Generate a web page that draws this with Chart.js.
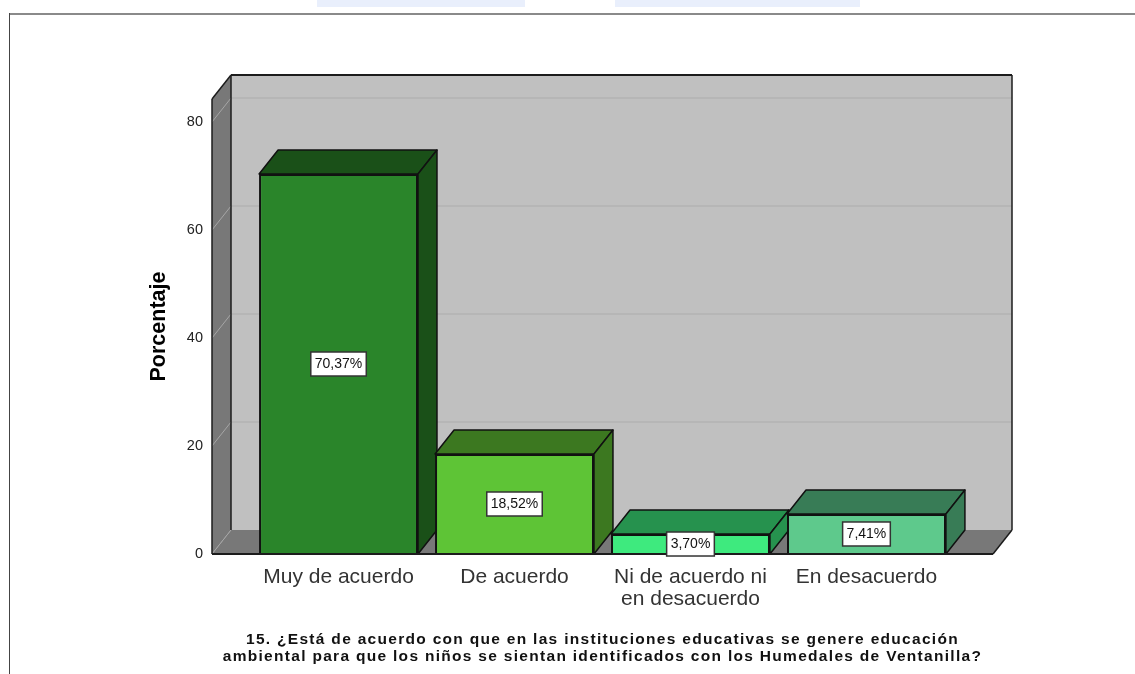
<!DOCTYPE html>
<html>
<head>
<meta charset="utf-8">
<style>
html, body { margin:0; padding:0; background:#fff; overflow:hidden; }
#wrap { position:relative; width:1135px; height:674px; }
#mainChart { position:absolute; left:0; top:0; }
.frameTop { position:absolute; left:9px; right:0; top:13px; height:2px; background:#8a8a8a; }
.frameLeft { position:absolute; left:9px; top:13px; bottom:0; width:1px; background:#444; }
.scrap { position:absolute; top:0; height:7px; background:#e9effc; }
</style>
</head>
<body>
<div id="wrap">
  <div class="scrap" style="left:317px;width:208px"></div>
  <div class="scrap" style="left:615px;width:245px"></div>
  <div class="frameTop"></div>
  <div class="frameLeft"></div>
  <canvas id="mainChart" width="1135" height="674"></canvas>
</div>
<script src="https://cdn.jsdelivr.net/npm/chart.js@4"></script>
<script>
const categories = ['Muy de acuerdo', 'De acuerdo', ['Ni de acuerdo ni', 'en desacuerdo'], 'En desacuerdo'];
const values = [70.37, 18.52, 3.70, 7.41];
const valueLabels = ['70,37%', '18,52%', '3,70%', '7,41%'];
const frontColors = ['#2a852a', '#5ec436', '#3eea7e', '#5ec98c'];
const depthColors = ['#1a5018', '#3c7820', '#26924e', '#387c56'];
const yTicks = [0, 20, 40, 60, 80];
const titleLines = [
    '15. ¿Está de acuerdo con que en las instituciones educativas se genere educación',
    'ambiental para que los niños se sientan identificados con los Humedales de Ventanilla?'
];

// depth of the fake 3D box, in pixels
const DX = 19, DY = 24;
const EDGE = '#1c1c1c';

function poly(ctx, pts, fill, stroke, lw) {
    ctx.beginPath();
    pts.forEach((p, i) => i ? ctx.lineTo(p[0], p[1]) : ctx.moveTo(p[0], p[1]));
    ctx.closePath();
    ctx.fillStyle = fill;
    ctx.fill();
    if (stroke) {
        ctx.strokeStyle = stroke;
        ctx.lineWidth = lw || 1.5;
        ctx.lineJoin = 'round';
        ctx.stroke();
    }
}

function seg(ctx, x1, y1, x2, y2, color, lw) {
    ctx.beginPath();
    ctx.moveTo(x1, y1);
    ctx.lineTo(x2, y2);
    ctx.strokeStyle = color;
    ctx.lineWidth = lw;
    ctx.stroke();
}

const box3d = {
    id: 'box3d',
    beforeDatasetsDraw(chart) {
        const { ctx, chartArea: a, scales } = chart;
        ctx.save();
        // back wall, side wall, floor
        poly(ctx, [[a.left + DX, a.top - DY], [a.right + DX, a.top - DY], [a.right + DX, a.bottom - DY], [a.left + DX, a.bottom - DY]], '#c0c0c0');
        poly(ctx, [[a.left, a.top], [a.left + DX, a.top - DY], [a.left + DX, a.bottom - DY], [a.left, a.bottom]], '#787878');
        poly(ctx, [[a.left, a.bottom], [a.left + DX, a.bottom - DY], [a.right + DX, a.bottom - DY], [a.right, a.bottom]], '#787878');
        // grid lines run along the side wall and across the back wall
        yTicks.forEach(v => {
            const y = scales.y.getPixelForValue(v);
            if (v > 0) seg(ctx, a.left + DX, y - DY, a.right + DX, y - DY, '#b6b6b6', 2);
            seg(ctx, a.left, y, a.left + DX, y - DY, '#a6a6a6', 1);
        });
        // wall outline
        seg(ctx, a.left + DX, a.top - DY, a.right + DX, a.top - DY, EDGE, 2);
        seg(ctx, a.right + DX, a.top - DY, a.right + DX, a.bottom - DY, EDGE, 1.5);
        seg(ctx, a.left + DX, a.top - DY, a.left + DX, a.bottom - DY, EDGE, 1.5);
        seg(ctx, a.left, a.top, a.left + DX, a.top - DY, EDGE, 1.5);
        seg(ctx, a.left, a.top, a.left, a.bottom, EDGE, 1.5);
        seg(ctx, a.right, a.bottom, a.right + DX, a.bottom - DY, EDGE, 1.5);
        // top and side of every bar, the library paints the fronts over them
        chart.getDatasetMeta(0).data.forEach((bar, i) => {
            const l = bar.x - bar.width / 2, r = bar.x + bar.width / 2;
            poly(ctx, [[l, bar.y], [l + DX, bar.y - DY], [r + DX, bar.y - DY], [r, bar.y]], depthColors[i], '#111', 1.5);
            poly(ctx, [[r, bar.y], [r + DX, bar.y - DY], [r + DX, bar.base - DY], [r, bar.base]], depthColors[i], '#111', 1.5);
        });
        ctx.restore();
    },
    afterDatasetsDraw(chart) {
        const { ctx, chartArea: a } = chart;
        ctx.save();
        seg(ctx, a.left, a.bottom, a.right, a.bottom, EDGE, 2);
        // value boxes
        ctx.font = '14px "Liberation Sans"';
        ctx.textAlign = 'center';
        ctx.textBaseline = 'middle';
        chart.getDatasetMeta(0).data.forEach((bar, i) => {
            const w = ctx.measureText(valueLabels[i]).width + 8, h = 24;
            const cy = (bar.y + bar.base) / 2;
            ctx.fillStyle = '#fff';
            ctx.fillRect(bar.x - w / 2, cy - h / 2, w, h);
            ctx.strokeStyle = '#333';
            ctx.lineWidth = 1.5;
            ctx.strokeRect(bar.x - w / 2, cy - h / 2, w, h);
            ctx.fillStyle = '#111';
            ctx.fillText(valueLabels[i], bar.x, cy + 0.5);
        });
        // question under the chart, it is spaced wider than the axis title allows
        ctx.font = 'bold 15.5px "Liberation Sans"';
        ctx.letterSpacing = '1.3px';
        ctx.fillStyle = '#111';
        titleLines.forEach((t, i) => ctx.fillText(t, (a.left + a.right) / 2, 640 + i * 17));
        ctx.restore();
    }
};

new Chart(document.getElementById('mainChart').getContext('2d'), {
    type: 'bar',
    data: {
        datasets: [{
            data: values.map((v, i) => ({ x: i + 1, y: v })),
            backgroundColor: frontColors,
            borderColor: '#111',
            borderWidth: 2,
            barPercentage: 0.903,
            categoryPercentage: 1
        }]
    },
    options: {
        responsive: false,
        animation: false,
        devicePixelRatio: 1,
        layout: { padding: { left: 146, right: 142, top: 99, bottom: 0 } },
        plugins: { legend: { display: false }, tooltip: { enabled: false } },
        scales: {
            x: {
                type: 'linear',
                offset: false,
                min: 0.281,
                max: 4.719,
                grid: { display: false },
                border: { display: false },
                afterBuildTicks: axis => { axis.ticks = categories.map((c, i) => ({ value: i + 1 })); },
                afterFit: axis => { axis.height = 120; },
                ticks: {
                    autoSkip: false,
                    maxRotation: 0,
                    padding: 4,
                    color: '#333',
                    font: { family: 'Liberation Sans', size: 21, lineHeight: 1.05 },
                    callback: v => categories[v - 1]
                }
            },
            y: {
                min: 0,
                max: 84.26,
                grid: { display: false },
                border: { display: false },
                afterFit: axis => { axis.width = 66; },
                ticks: {
                    stepSize: 20,
                    includeBounds: false,
                    padding: 1,
                    color: '#222',
                    font: { family: 'Liberation Sans', size: 14.5 }
                },
                title: {
                    display: true,
                    text: 'Porcentaje',
                    color: '#000',
                    padding: 0,
                    font: { family: 'Liberation Sans', size: 21.5, weight: 'bold' }
                }
            }
        }
    },
    plugins: [box3d]
});
</script>
</body>
</html>
